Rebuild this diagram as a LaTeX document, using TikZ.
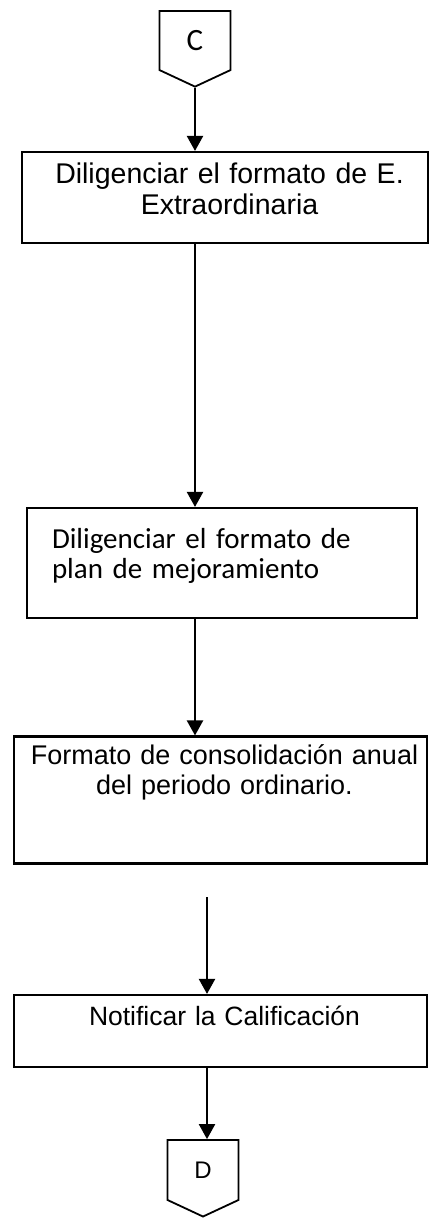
\documentclass[tikz,border=0pt]{standalone}
\usepackage{fontspec}
\setmainfont{Liberation Sans}
\newfontfamily\calibri{Carlito}
\usetikzlibrary{positioning, arrows.meta, shapes.symbols}

\begin{document}
\begin{tikzpicture}[
    x=1pt, y=-1pt,
    % Styles
    process/.style={draw, line width=2.1pt, align=center, inner sep=0pt, text height=0pt, font=\fontsize{27}{30}\selectfont},
    offpage/.style={draw, line width=1.8pt, shape=signal, signal to=south, signal from=nowhere, signal pointer angle=130, minimum width=71pt, minimum height=63pt, inner sep=0pt},
    arrow/.style={-{Triangle[width=16pt,length=15pt]}, line width=2.1pt},
]
\useasboundingbox (0,0) rectangle (433,1218);

% Off-page connector in
\node[offpage, font=\calibri\fontsize{31}{33}\selectfont] (C) at (195,40.5) {C};

% Steps
\node[process, font=\fontsize{28.5}{31}\selectfont, text width=406pt, text depth=29pt, minimum width=406pt, minimum height=91pt] (b1) at (225,197.5) {\hspace*{9pt}Diligenciar el formato de E.\\\hspace*{9pt}Extraordinaria};

\node[process, font=\calibri\fontsize{29}{30}\selectfont, align=left, text width=340pt, text depth=30pt, minimum width=390pt, minimum height=110pt] (b2) at (222,563) {Diligenciar el formato de\\plan de mejoramiento};

\node[process, text width=413pt, text depth=72pt, minimum width=413pt, minimum height=127pt] (b3) at (220.5,800) {\hspace*{8pt}Formato de consolidación anual\\\hspace*{8pt}del periodo ordinario.};

\node[process, font=\fontsize{26.5}{30}\selectfont, text width=413pt, text depth=12pt, minimum width=413pt, minimum height=72pt] (b4) at (220.5,1031) {\hspace*{8pt}Notificar la Calificación};

% Off-page connector out
\node[offpage, font=\fontsize{24}{26}\selectfont, minimum height=64pt] (D) at (203,1170) {D};

% Arrows
\coordinate (s4) at (207,897);
\draw[arrow] (C.south) -- (C.south |- b1.north);
\draw[arrow] (b1.south -| C.south) -- (b2.north -| C.south);
\draw[arrow] (b2.south -| C.south) -- (b3.north -| C.south);
\draw[arrow] (s4) -- (s4 |- b4.north);
\draw[arrow] (b4.south -| s4) -- (s4 |- D.north);

\end{tikzpicture}
\end{document}
